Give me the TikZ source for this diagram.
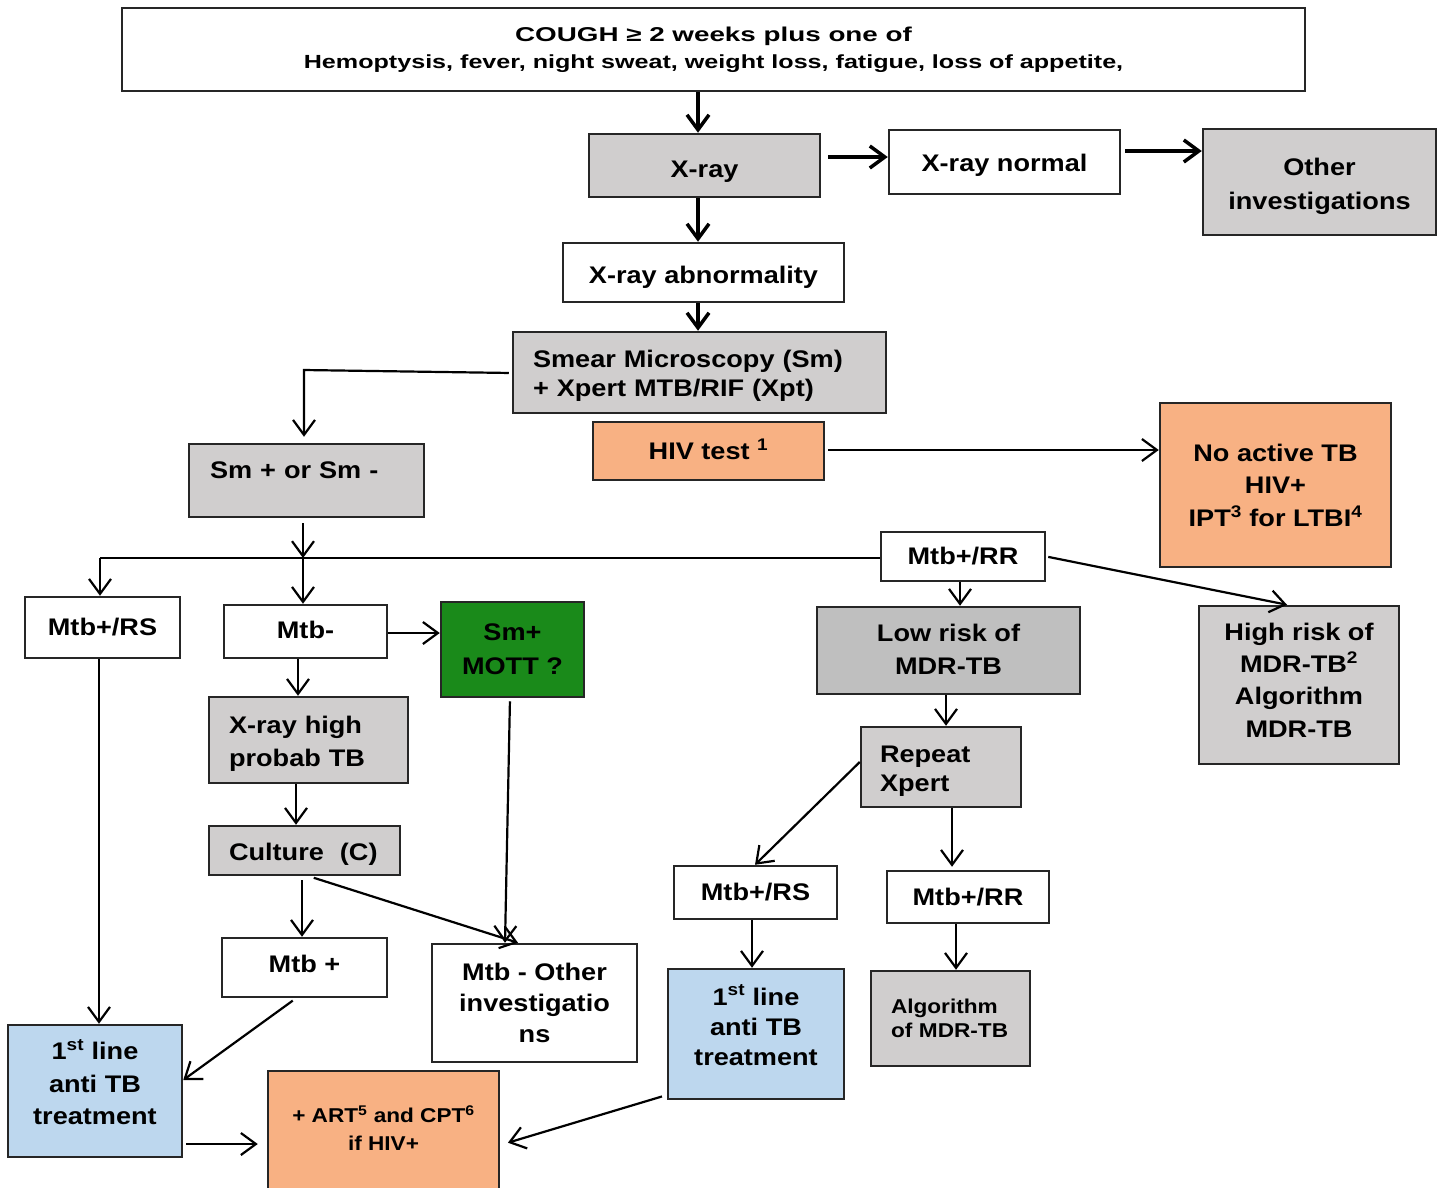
\documentclass[tikz,border=0pt]{standalone}
\usepackage{fontspec}
\setmainfont{Liberation Sans}[FakeStretch=1.13]
\usetikzlibrary{arrows.meta}
\definecolor{boxgray}{HTML}{D0CECE}
\definecolor{lowgray}{HTML}{BFBFBF}
\definecolor{boxorange}{HTML}{F8B183}
\definecolor{boxblue}{HTML}{BDD7EE}
\definecolor{boxgreen}{HTML}{1A8A1A}
% struts used to move a box's text down (taller first line) or up (deeper last line)
\newcommand\dnstrut[1]{\rule{0pt}{#1}}
\newcommand\upstrut[1]{\rule[-#1]{0pt}{#1}}
\tikzset{
  box/.style={draw=black!85, line width=2.5pt, inner sep=0pt, align=center,
    font=\bfseries\fontsize{24}{32}\selectfont},
  wbox/.style={box, fill=white},
  gbox/.style={box, fill=boxgray},
  obox/.style={box, fill=boxorange},
  bbox/.style={box, fill=boxblue},
  arr/.style={draw=black, line width=2.2pt, -{Straight Barb[length=15pt,width=22pt]}},
  arrthick/.style={draw=black, line width=3.5pt, -{Straight Barb[length=15pt,width=22pt]}},
  plain/.style={draw=black, line width=2.2pt},
}
\begin{document}
\begin{tikzpicture}[x=1pt,y=-1pt]
\fill[white] (0,0) rectangle (1442,1187);
\useasboundingbox (0,0) rectangle (1442,1187);

% boxes
\node[wbox, minimum width=1183, minimum height=83, font=\bfseries\fontsize{19}{27}\selectfont] (cough) at (713.5,49.5)
  {\scalebox{1.23}[1]{\fontsize{20}{20}\selectfont COUGH ≥ 2 weeks plus one of}\\
   \scalebox{1.17}[1]{Hemoptysis, fever, night sweat, weight loss, fatigue, loss of appetite,}};
\node[gbox, minimum width=231, minimum height=63] (xray) at (704.5,165.5) {\dnstrut{29pt}X-ray};
\node[wbox, minimum width=231, minimum height=64] (xnorm) at (1004.5,162) {\dnstrut{23pt}X-ray normal};
\node[gbox, minimum width=233, minimum height=106, font=\bfseries\fontsize{24}{34}\selectfont] (other) at (1319.5,182) {\dnstrut{27pt}Other\\investigations};
\node[wbox, minimum width=281, minimum height=59] (abn) at (703.5,272.5) {\dnstrut{27.5pt}X-ray abnormality};
\node[gbox, minimum width=373, minimum height=81, align=left, text width=333,
  font=\bfseries\fontsize{24}{29}\selectfont] (smear) at (699.5,372.5)
  {\dnstrut{24.5pt}Smear Microscopy (Sm)\\+ Xpert MTB/RIF (Xpt)};
\node[obox, minimum width=231, minimum height=58] (hiv) at (708.5,451) {HIV test \textsuperscript{1}\upstrut{4pt}};
\node[obox, minimum width=231, minimum height=164, font=\bfseries\fontsize{24}{32.5}\selectfont] (noactive) at (1275.5,485)
  {No active TB\\HIV+\\IPT\textsuperscript{3} for LTBI\textsuperscript{4}};
\node[gbox, minimum width=235, minimum height=73, align=left, text width=193,
  text height=17pt, text depth=21pt] (smbox) at (306.5,480.5) {Sm + or Sm -};
\node[wbox, minimum width=164, minimum height=49] (rr1) at (963,556.5) {Mtb+/RR};
\node[wbox, minimum width=155, minimum height=61] (rs1) at (102.5,627.5) {Mtb+/RS};
\node[wbox, minimum width=163, minimum height=53] (mtbneg) at (305.5,631.5) {Mtb-\upstrut{4pt}};
\node[box, fill=boxgreen, minimum width=143, minimum height=95, font=\bfseries\fontsize{24}{34}\selectfont] (mott) at (512.5,649.5) {Sm+\\MOTT ?};
\node[box, fill=lowgray, minimum width=263, minimum height=87, font=\bfseries\fontsize{24}{33}\selectfont] (lowrisk) at (948.5,650.5) {Low risk of\\MDR-TB\upstrut{3pt}};
\node[gbox, minimum width=200, minimum height=158, font=\bfseries\fontsize{24}{32.3}\selectfont] (highrisk) at (1299,685)
  {High risk of\\MDR-TB\textsuperscript{2}\\Algorithm\\MDR-TB\upstrut{10pt}};
\node[gbox, minimum width=199, minimum height=86, align=left, text width=159,
  font=\bfseries\fontsize{24}{33}\selectfont] (xhigh) at (308.5,740) {\dnstrut{25.5pt}X-ray high\\probab TB};
\node[gbox, minimum width=160, minimum height=80, align=left, text width=122,
  font=\bfseries\fontsize{24}{29}\selectfont] (repeat) at (941,767) {\dnstrut{25.5pt}Repeat\\Xpert};
\node[gbox, minimum width=191, minimum height=49, align=left, text width=151] (culture) at (304.5,850.5) {\dnstrut{25.5pt}Culture \ (C)};
\node[wbox, minimum width=163, minimum height=53] (rs2) at (755.5,892.5) {Mtb+/RS};
\node[wbox, minimum width=162, minimum height=52] (rr2) at (968,897) {Mtb+/RR};
\node[wbox, minimum width=165, minimum height=59] (mtbpos) at (304.5,967.5) {Mtb +\upstrut{8pt}};
\node[wbox, minimum width=205, minimum height=118, font=\bfseries\fontsize{24}{31}\selectfont] (mtbother) at (534.5,1003)
  {Mtb - Other\\investigatio\\ns};
\node[bbox, minimum width=174, minimum height=132, font=\bfseries\fontsize{24}{32.5}\selectfont] (first1) at (95,1091)
  {1\textsuperscript{st} line\\anti TB\\treatment\upstrut{18pt}};
\node[bbox, minimum width=176, minimum height=130, font=\bfseries\fontsize{24}{30}\selectfont] (first2) at (756,1034)
  {1\textsuperscript{st} line\\anti TB\\treatment\upstrut{18pt}};
\node[gbox, minimum width=159, minimum height=95, align=left, text width=119,
  font=\bfseries\fontsize{20}{24}\selectfont] (algo) at (950.5,1018.5) {Algorithm\\of MDR-TB};
\node[obox, minimum width=231, minimum height=124, font=\bfseries\fontsize{20}{28}\selectfont] (art) at (383.5,1133)
  {+ ART\textsuperscript{5} and CPT\textsuperscript{6}\\if HIV+\upstrut{10pt}};

% helper coordinates
\coordinate (bend) at (304,370);
\coordinate (busl) at (100,558);
\coordinate (busm) at (303,558);

% connectors
\draw[arrthick] (cough.south -| 698,0) -- (xray.north -| 698,0);
\draw[arrthick, shorten <=7pt] (xray.east |- 0,157) -- (xnorm.west |- 0,157);
\draw[arrthick, shorten <=4pt] (xnorm.east |- 0,151) -- (other.west |- 0,151);
\draw[arrthick] (xray.south -| 698,0) -- (abn.north -| 698,0);
\draw[arrthick] (abn.south -| 698,0) -- (smear.north -| 698,0);
\draw[arr, shorten <=3pt, shorten >=6pt] (smear.west |- 0,373) -- (bend) -- (smbox.north -| bend);
\draw[arr, shorten <=3pt] (hiv.east |- 0,450) -- (noactive.west |- 0,450);
\draw[arr, shorten <=5pt] (smbox.south -| busm) -- (busm);
\draw[plain] (rr1.west |- busl) -- (busl);
\draw[arr] (busl) -- (rs1.north -| busl);
\draw[arr] (busm) -- (mtbneg.north -| busm);
\draw[arr] (rr1.south -| 960,0) -- (lowrisk.north -| 960,0);
\draw[arr, shorten <=2pt] (rr1.east) -- (highrisk.north -| 1287,0);
\draw[arr] (mtbneg.east |- 0,633) -- (mott.west |- 0,633);
\draw[arr] (mtbneg.south -| 298,0) -- (xhigh.north -| 298,0);
\draw[arr] (rs1.south -| 99,0) -- (first1.north -| 99,0);
\draw[arr, shorten <=3pt] (mott.south -| 510,0) -- (mtbother.north -| 505,0);
\draw[arr] (xhigh.south -| 296,0) -- (culture.north -| 296,0);
\draw[arr, shorten <=4pt] (culture.south -| 302,0) -- (mtbpos.north -| 302,0);
\draw[arr, shorten <=5pt] (culture.south -| 309,0) -- (mtbother.north -| 518,0);
\draw[arr, shorten <=4pt] (mtbpos.south -| 296,0) -- (first1.east |- 0,1080);
\draw[arr, shorten <=3pt, shorten >=9pt] (first1.east |- 0,1144) -- (art.west |- 0,1144);
\draw[arr, shorten <=5pt, shorten >=8pt] (first2.west |- 0,1095) -- (art.east |- 0,1145);
\draw[arr] (lowrisk.south -| 946,0) -- (repeat.north -| 946,0);
\draw[arr] (repeat.west |- 0,762) -- (rs2.north -| 755,0);
\draw[arr, shorten >=3pt] (repeat.south -| 952,0) -- (rr2.north -| 952,0);
\draw[arr] (rs2.south -| 752,0) -- (first2.north -| 752,0);
\draw[arr] (rr2.south -| 956,0) -- (algo.north -| 956,0);
\end{tikzpicture}
\end{document}
